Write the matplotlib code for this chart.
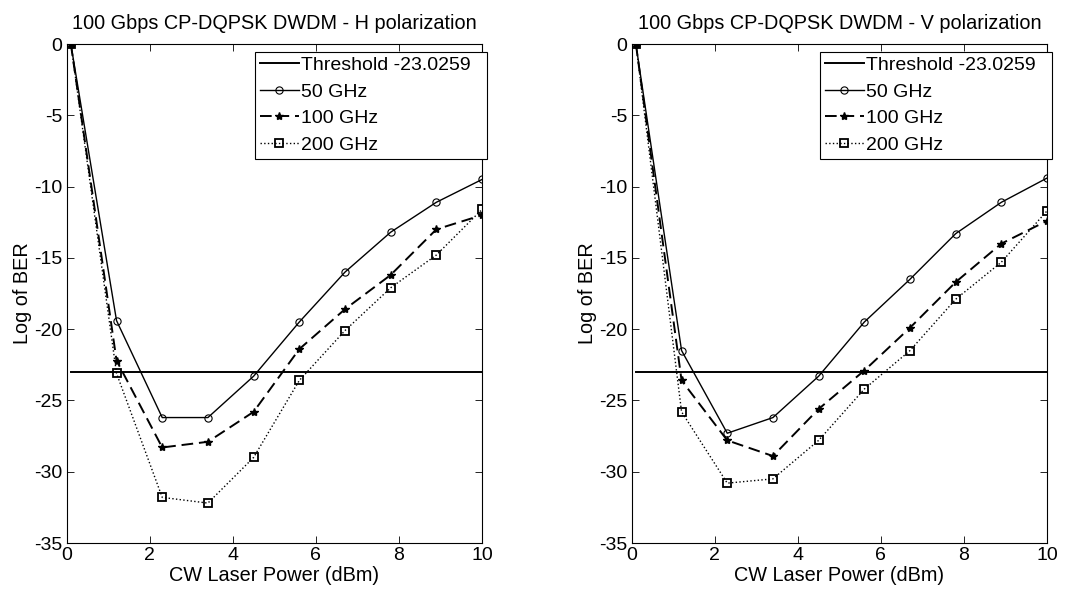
import numpy as np
import matplotlib.pyplot as plt

plt.rcParams['font.family'] = ['Liberation Sans', 'DejaVu Sans']
plt.rcParams['axes.unicode_minus'] = False

# CW laser power (dBm)
power = [0.1, 1.2, 2.3, 3.4, 4.5, 5.6, 6.7, 7.8, 8.9, 10.0]
threshold = -23.0259

# H polarization, log of BER
h_50 = [0, -19.4, -26.2, -26.2, -23.3, -19.5, -16.0, -13.2, -11.1, -9.5]
h_100 = [0, -22.2, -28.3, -27.9, -25.8, -21.4, -18.6, -16.2, -13.0, -12.0]
h_200 = [0, -23.1, -31.8, -32.2, -29.0, -23.6, -20.1, -17.1, -14.8, -11.6]

# V polarization, log of BER
v_50 = [0, -21.5, -27.3, -26.2, -23.3, -19.5, -16.5, -13.3, -11.1, -9.4]
v_100 = [0, -23.6, -27.8, -28.9, -25.6, -22.9, -19.9, -16.7, -14.0, -12.4]
v_200 = [0, -25.8, -30.8, -30.5, -27.8, -24.2, -21.5, -17.9, -15.3, -11.7]

titles = ['100 Gbps CP-DQPSK DWDM - H polarization',
          '100 Gbps CP-DQPSK DWDM - V polarization']

fig = plt.figure(figsize=(10.81, 5.91), dpi=100)
ax1 = fig.add_axes([0.0617, 0.0812, 0.3842, 0.8443])
ax2 = fig.add_axes([0.5844, 0.0812, 0.3842, 0.8443])


def draw(ax, title, s50, s100, s200):
    ax.plot([power[0], power[-1]], [threshold, threshold], 'k-', lw=1.4,
            label='Threshold -23.0259')
    ax.plot(power, s50, 'k-', marker='o', ms=5.2, mfc='none', mew=0.8, lw=1,
            label='50 GHz')
    ax.plot(power, s100, 'k--', marker='*', ms=6, lw=1.4, dashes=(6, 3),
            label='100 GHz')
    ax.plot(power, s200, 'k:', marker='s', ms=5.8, mfc='none', mew=1.3, lw=1,
            label='200 GHz')
    ax.set_xlim(0, 10)
    ax.set_ylim(-35, 0)
    ax.set_xticks(np.arange(0, 11, 2))
    ax.set_yticks(np.arange(-35, 1, 5))
    ax.tick_params(direction='in', top=True, right=True, labelsize=14,
                   length=5, width=0.6, pad=3)
    for sp in ax.spines.values():
        sp.set_linewidth(0.8)
    ax.set_title(title, fontsize=14.3, pad=11)
    ax.set_xlabel('CW Laser Power (dBm)', fontsize=14.3, labelpad=1)
    ax.set_ylabel('Log of BER', fontsize=14.3, labelpad=2)
    leg = ax.legend(loc='upper left', bbox_to_anchor=(0.453, 0.985, 0.558, 0.0),
                    mode='expand', fontsize=14, handlelength=2.0,
                    handletextpad=0.1, borderpad=0.25, labelspacing=0.46,
                    borderaxespad=0, fancybox=False, framealpha=1)
    leg.get_frame().set_edgecolor('black')
    leg.get_frame().set_linewidth(0.8)


draw(ax1, titles[0], h_50, h_100, h_200)
draw(ax2, titles[1], v_50, v_100, v_200)

fig.savefig('out.png', dpi=100)
